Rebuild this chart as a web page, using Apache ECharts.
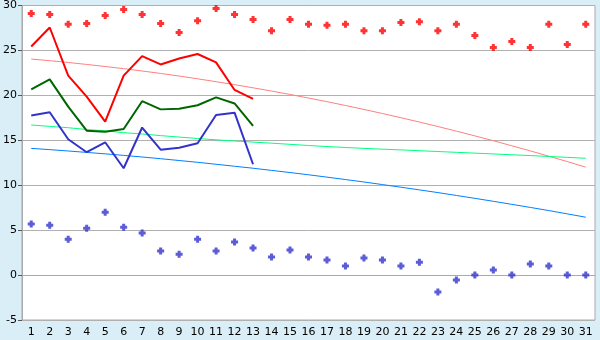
<!DOCTYPE html>
<html>
<head>
<meta charset="utf-8">
<script src="https://cdn.jsdelivr.net/npm/echarts@6/dist/echarts.min.js"></script>
<style>
html,body{margin:0;padding:0;background:#d9eef6;}
#c{width:600px;height:340px;}
</style>
</head>
<body>
<div id="c"></div>
<script>
var days = [];
for (var i = 1; i <= 31; i++) days.push(String(i));
var yTicks = [-5, 0, 5, 10, 15, 20, 25, 30];

var recordMax = [29.1, 29.0, 27.9, 28.0, 28.9, 29.55, 29.0, 28.0, 27.0, 28.3, 29.67, 29.0, 28.45, 27.2, 28.45, 27.9, 27.8, 27.9, 27.2, 27.2, 28.1, 28.2, 27.2, 27.9, 26.67, 25.33, 26.0, 25.33, 27.9, 25.67, 27.9];
var recordMin = [5.67, 5.55, 4.0, 5.22, 7.0, 5.33, 4.67, 2.67, 2.33, 4.0, 2.67, 3.67, 3.0, 2.0, 2.78, 2.0, 1.67, 1.0, 1.89, 1.67, 1.0, 1.44, -1.89, -0.56, 0.0, 0.56, 0.0, 1.22, 1.0, 0.0, 0.0];

var dailyMax = [25.44, 27.55, 22.2, 19.85, 17.07, 22.2, 24.37, 23.44, 24.1, 24.6, 23.67, 20.6, 19.6];
var dailyMean = [20.67, 21.78, 18.74, 16.07, 15.96, 16.26, 19.35, 18.44, 18.5, 18.9, 19.78, 19.1, 16.6];
var dailyMin = [17.76, 18.12, 15.11, 13.67, 14.78, 11.89, 16.42, 13.95, 14.18, 14.67, 17.82, 18.07, 12.33];

var normalMax = [24.04, 23.86, 23.66, 23.44, 23.21, 22.97, 22.71, 22.44, 22.15, 21.84, 21.52, 21.19, 20.84, 20.48, 20.10, 19.70, 19.30, 18.87, 18.43, 17.98, 17.51, 17.03, 16.53, 16.02, 15.49, 14.95, 14.39, 13.82, 13.23, 12.63, 12.01];
var normalMean = [16.7, 16.55, 16.4, 16.2, 16.05, 15.85, 15.7, 15.52, 15.36, 15.2, 15.05, 14.92, 14.8, 14.68, 14.55, 14.42, 14.3, 14.2, 14.1, 14.01, 13.93, 13.84, 13.75, 13.66, 13.57, 13.48, 13.39, 13.3, 13.2, 13.1, 13.0];
var normalMin = [14.10, 13.96, 13.81, 13.65, 13.49, 13.32, 13.14, 12.95, 12.75, 12.55, 12.33, 12.11, 11.89, 11.65, 11.41, 11.16, 10.90, 10.63, 10.36, 10.07, 9.78, 9.48, 9.18, 8.86, 8.54, 8.21, 7.87, 7.53, 7.18, 6.81, 6.44];

var marker = 'path://M2,0H5V2H7V5H5V7H2V5H0V2H2Z';
var chart = echarts.init(document.getElementById('c'), null, {renderer: 'canvas'});
var font = {fontFamily: 'DejaVu Sans', fontSize: 11, color: '#000'};
chart.setOption({
  animation: false,
  backgroundColor: '#d9eef6',
  grid: {left: 20, right: 5, top: 5, bottom: 20, show: true, backgroundColor: '#fff', borderColor: '#aaaaaa', borderWidth: 1},
  xAxis: {
    type: 'category', data: days, boundaryGap: true,
    axisLine: {lineStyle: {color: '#aaaaaa'}},
    axisTick: {alignWithLabel: true, length: 5, lineStyle: {color: '#555'}},
    axisLabel: Object.assign({margin: 7, interval: 0}, font),
    splitLine: {show: false}
  },
  yAxis: {
    type: 'value', min: yTicks[0], max: yTicks[yTicks.length - 1], interval: 5,
    axisLine: {show: true, lineStyle: {color: '#aaaaaa'}},
    axisTick: {show: true, length: 4, lineStyle: {color: '#555'}},
    axisLabel: Object.assign({margin: 5}, font),
    splitLine: {lineStyle: {color: '#b0b0b0', width: 1}}
  },
  series: [
    {type: 'line', data: normalMax, showSymbol: false, lineStyle: {color: '#ff8080', width: 1}, z: 2},
    {type: 'line', data: normalMean, showSymbol: false, lineStyle: {color: '#00ff80', width: 1}, z: 2},
    {type: 'line', data: normalMin, showSymbol: false, lineStyle: {color: '#0080ff', width: 1}, z: 2},
    {type: 'line', data: dailyMax, showSymbol: false, lineStyle: {color: '#ff0000', width: 2}, z: 3},
    {type: 'line', data: dailyMean, showSymbol: false, lineStyle: {color: '#006600', width: 2}, z: 3},
    {type: 'line', data: dailyMin, showSymbol: false, lineStyle: {color: '#3333cc', width: 2}, z: 3},
    {type: 'scatter', data: recordMax, symbol: marker, symbolSize: 7, itemStyle: {color: '#ff0000'}, z: 4},
    {type: 'scatter', data: recordMin, symbol: marker, symbolSize: 7, itemStyle: {color: '#3333cc'}, z: 4}
  ]
});
</script>
</body>
</html>
